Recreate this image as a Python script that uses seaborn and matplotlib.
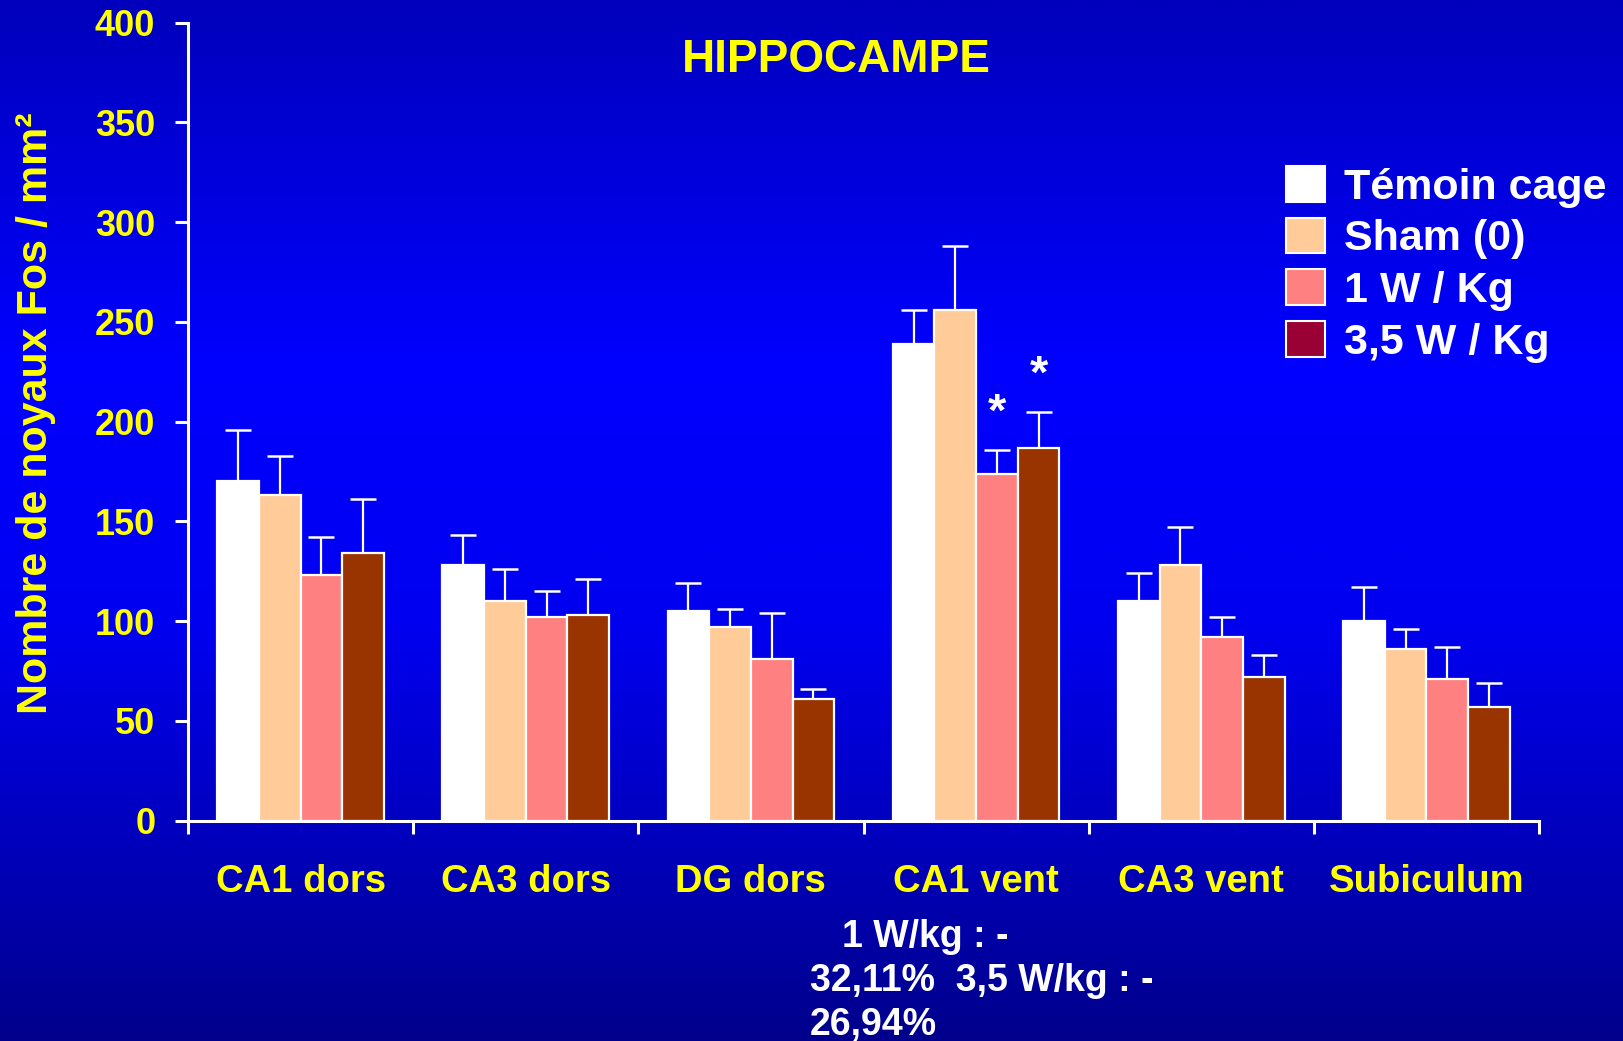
import numpy as np
import pandas as pd
import matplotlib
matplotlib.use("Agg")
import matplotlib.pyplot as plt
from matplotlib.patches import Patch
from matplotlib.colors import LinearSegmentedColormap
import seaborn as sns

# ---- data -------------------------------------------------------------
categories = ["CA1 dors", "CA3 dors", "DG dors", "CA1 vent", "CA3 vent", "Subiculum"]
groups = ["Témoin cage", "Sham (0)", "1 W / Kg", "3,5 W / Kg"]

temoin_mean = [170, 128, 105, 239, 110, 100]
sham_mean = [163, 110, 97, 256, 128, 86]
w1_mean = [123, 102, 81, 174, 92, 71]
w35_mean = [134, 103, 61, 187, 72, 57]

temoin_err = [26, 15, 14, 17, 14, 17]
sham_err = [20, 16, 9, 32, 19, 10]
w1_err = [19, 13, 23, 12, 10, 16]
w35_err = [27, 18, 5, 18, 11, 12]

y_ticks = [0, 50, 100, 150, 200, 250, 300, 350, 400]

bar_colors = ["#FFFFFF", "#FFCC99", "#FF8080", "#993300"]
legend_colors = ["#FFFFFF", "#FFCC99", "#FF8080", "#990033"]

# significance markers: (category, group)
stars = [("CA1 vent", "1 W / Kg"), ("CA1 vent", "3,5 W / Kg")]

means = [temoin_mean, sham_mean, w1_mean, w35_mean]
errs = [temoin_err, sham_err, w1_err, w35_err]

df = pd.DataFrame({
    "region": np.tile(categories, len(groups)),
    "groupe": np.repeat(groups, len(categories)),
    "valeur": np.concatenate(means),
})

# ---- style ------------------------------------------------------------
sns.set_style("ticks")
plt.rcParams["font.family"] = ["Liberation Sans", "DejaVu Sans"]
plt.rcParams["font.weight"] = "bold"

W, H, DPI = 1623, 1041, 100
fig = plt.figure(figsize=(W / DPI, H / DPI), dpi=DPI)

# blue gradient backdrop
bg = fig.add_axes([0, 0, 1, 1], zorder=-10)
cmap = LinearSegmentedColormap.from_list(
    "slide", [(0.0, "#0000BC"), (0.35, "#0000FF"), (0.6, "#0000F0"), (1.0, "#00008C")])
grad = np.linspace(0, 1, 512).reshape(-1, 1)
bg.imshow(grad, aspect="auto", cmap=cmap, extent=[0, 1, 1, 0])
bg.axis("off")

ax_l, ax_r, ax_b, ax_t = 188 / W, 1539 / W, 1 - 820.6 / H, 1 - 22.7 / H
ax = fig.add_axes([ax_l, ax_b, ax_r - ax_l, ax_t - ax_b], zorder=1)
ax.patch.set_alpha(0)

sns.barplot(data=df, x="region", y="valeur", hue="groupe", order=categories,
            hue_order=groups, palette=bar_colors, width=0.74, gap=0,
            edgecolor="white", linewidth=1.6, errorbar=None, legend=False,
            saturation=1, ax=ax)

# upper-only error bars
for cont, m, e in zip(ax.containers, means, errs):
    xs = [p.get_x() + p.get_width() / 2 for p in cont.patches]
    ax.errorbar(xs, m, yerr=[np.zeros(len(e)), e], fmt="none", ecolor="white",
                elinewidth=1.6, capsize=9.5, capthick=1.8, zorder=0)

# asterisks
for cat, grp in stars:
    gi = groups.index(grp)
    ci = categories.index(cat)
    p = ax.containers[gi].patches[ci]
    top = means[gi][ci] + errs[gi][ci]
    ax.text(p.get_x() + p.get_width() / 2, top + 12, "*", color="white",
            fontsize=34, fontweight="bold", ha="center", va="baseline")

ax.set_xlim(-0.5, len(categories) - 0.5)
ax.set_ylim(0, 400)
ax.set_yticks(y_ticks)
ax.set_yticklabels([str(v) for v in y_ticks])
ax.set_xticks(range(len(categories)))
ax.set_xticklabels(categories)
ax.set_xticks(np.arange(-0.5, len(categories)), minor=True)
ax.tick_params(axis="x", which="major", length=0, pad=31, labelsize=27.5,
               labelcolor="#FFFF00")
ax.tick_params(axis="x", which="minor", length=9, width=2.2, color="white",
               direction="out")
ax.tick_params(axis="y", length=9.5, width=2.2, color="white", pad=14,
               labelsize=26, labelcolor="#FFFF00")
for lab in ax.get_xticklabels() + ax.get_yticklabels():
    lab.set_fontweight("bold")

for s in ["top", "right"]:
    ax.spines[s].set_visible(False)
for s in ["left", "bottom"]:
    ax.spines[s].set_color("white")
    ax.spines[s].set_linewidth(2.2)

ax.set_xlabel("")
ax.set_ylabel("Nombre de noyaux Fos / mm²", color="#FFFF00", fontsize=31,
              fontweight="bold")
ax.yaxis.set_label_coords(-0.098, 0.511)

fig.text(836 / W, 1 - 72 / H, "HIPPOCAMPE", color="#FFFF00", fontsize=33,
         fontweight="bold", ha="center", va="baseline")

handles = [Patch(facecolor=c, edgecolor="white", linewidth=1.5) for c in legend_colors]
leg = fig.legend(handles, groups, loc="upper left",
                 bbox_to_anchor=(1286 / W, 1 - 166 / H), frameon=False,
                 fontsize=31, handlelength=0.9, handleheight=0.9,
                 handletextpad=0.45, labelspacing=0.23, borderpad=0,
                 borderaxespad=0)
for t in leg.get_texts():
    t.set_color("white")
    t.set_fontweight("bold")

note_lines = [(842, 947, "1 W/kg : -"), (810, 991, "32,11%  3,5 W/kg : -"),
              (810, 1035, "26,94%")]
for x, y, s in note_lines:
    fig.text(x / W, 1 - y / H, s, color="white", fontsize=27, fontweight="bold",
             ha="left", va="baseline")

fig.savefig("out.png", dpi=DPI)
